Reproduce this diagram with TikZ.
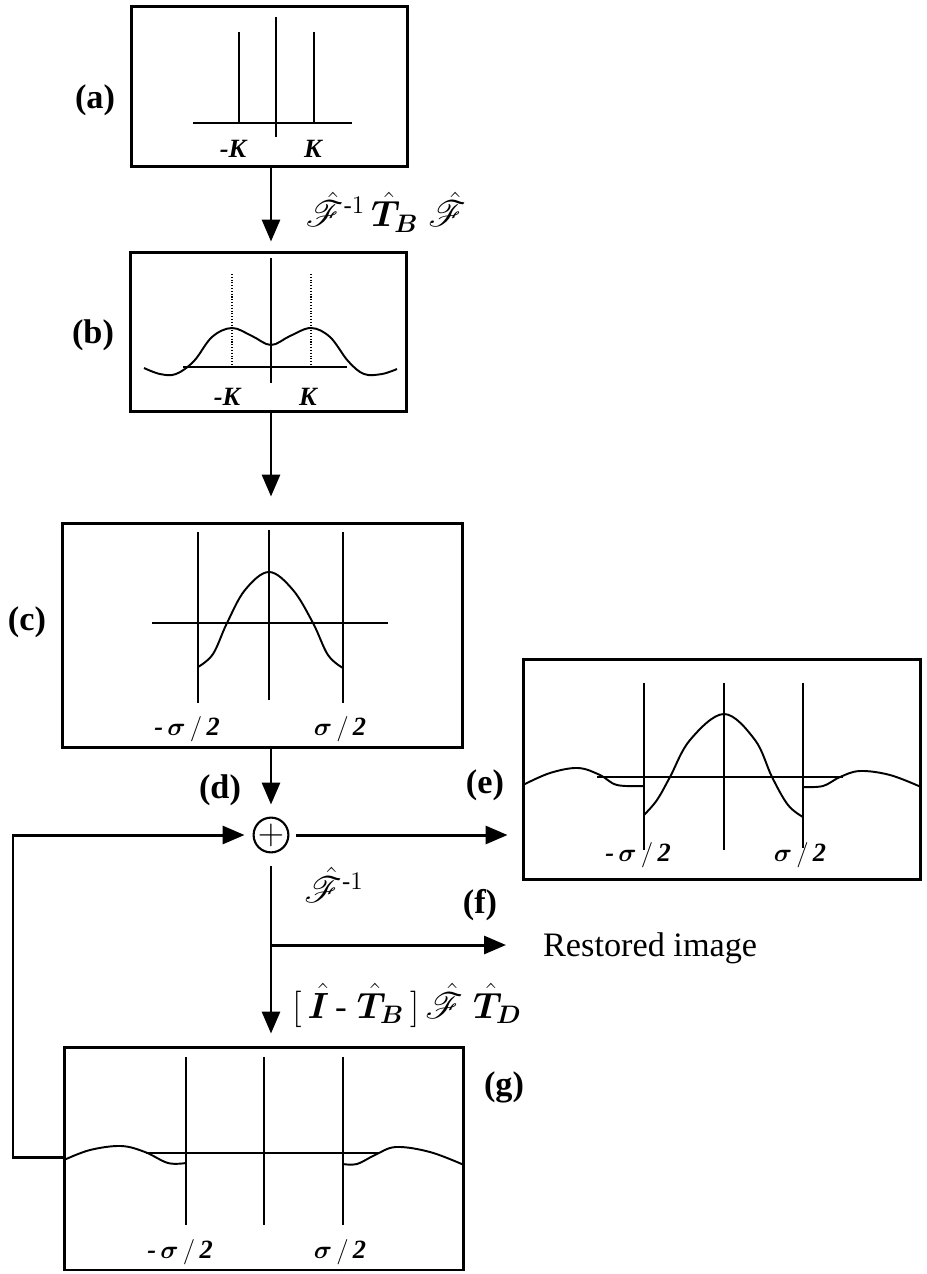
\documentclass[tikz,border=0pt]{standalone}
\usepackage{amsmath,amssymb,bm}
\usepackage{mathrsfs}
\usepackage{fontspec}
\setmainfont{Liberation Serif}
\usepackage{tikz}
\usetikzlibrary{calc}
\usetikzlibrary{arrows.meta, shapes}

\newcommand{\Fop}{\hat{\mathscr{F}}}
\newcommand{\Top}[1]{\bm{\hat{T}}_{\bm{#1}}}

\begin{document}
\begin{tikzpicture}[x=0.02cm, y=-0.02cm]
\tikzstyle{panel}=[draw=black, line width=1.7pt, inner sep=0pt]
\tikzstyle{tag}=[font=\fontsize{19.5}{22}\selectfont\bfseries]
\tikzstyle{op}=[font=\fontsize{20}{23}\selectfont, inner sep=1pt]
\tikzstyle{tick}=[font=\fontsize{15}{17}\selectfont\bfseries\itshape]
\tikzstyle{flow}=[line width=1.7pt, -{Triangle[length=0.44cm, width=0.36cm]}]
\tikzstyle{axis}=[line width=0.6pt]
\tikzstyle{spike}=[line width=1.3pt]
\tikzstyle{curve}=[line width=1.1pt]

\useasboundingbox (0,0) rectangle (926,1274);

% the five panels and the summing point
\path (269.5,86.5) node[panel, minimum width=5.54cm, minimum height=3.22cm](A) {}
      (268.5,332) node[panel, minimum width=5.54cm, minimum height=3.2cm](B) {}
      (262.5,635.5) node[panel, minimum width=8.02cm, minimum height=4.5cm](C) {}
      (722,769.5) node[panel, minimum width=7.96cm, minimum height=4.42cm](E) {}
      (264,1158.5) node[panel, minimum width=8cm, minimum height=4.46cm](G) {}
      (271,835) node[circle, draw, line width=1.2pt, minimum size=0.6cm, inner sep=0pt,
                     font=\fontsize{20}{20}\selectfont](Sum) {$+$};

% labels
\node[tag] (la) at (95,100) {(a)};
\node[tag] (lb) at (93,335) {(b)};
\node[tag] (lc) at (27,622) {(c)};
\node[tag] (ld) at (220,790) {(d)};
\node[tag] (le) at (485,785) {(e)};
\node[tag] (lf) at (480,905) {(f)};
\node[tag] (lg) at (504,1087) {(g)};
\node[op] (opab) at (386,212) {$\Fop^{\text{-}1}\,\Top{B}\;\Fop$};
\node[op] (opinv) at (334,885) {$\Fop^{\text{-}1}$};
\node[op] (opg) at (407,1005) {$[\,\bm{\hat{I}}\,\text{-}\;\Top{B}\,]\,\Fop\;\Top{D}$};
\node[op, anchor=west, font=\fontsize{19.5}{22}\selectfont] (Out) at (541,948) {Restored image};

% connectors
\draw[flow, shorten >=0.18cm] (A.south -| Sum) -- (B.north -| Sum);
\draw[flow, shorten >=0.5cm] (B.south -| Sum) -- (C.north -| Sum);
\draw[flow, shorten >=0.24cm] (C.south -| Sum) -- (Sum.north);
\draw[flow, shorten <=0.14cm, shorten >=0.28cm] (Sum.east) -- (Sum.east -| E.west);
\draw[flow, shorten <=0.26cm, shorten >=0.24cm] (Sum.south) -- (G.north -| Sum);
\coordinate (fork) at (271,945);
\draw[flow, shorten >=0.7cm] (fork) -- (fork -| Out.west);
\coordinate (loop) at (13,1157);
\draw[flow, shorten >=0.16cm] (G.west |- loop) -- (loop) |- (Sum.west);

% (a) two lines at -K and K
\draw[axis] (276,17) -- (276,137);
\draw[axis] (193,123) -- (352,123);
\draw[spike] (239,32) -- (239,123);
\draw[spike] (314,32) -- (314,123);
\node[tick] (ka1) at (233,149) {-K};
\node[tick] (ka2) at (313,149) {K};

% (b) blurred lines
\draw[axis] (271,258) -- (271,383);
\draw[axis] (183,367) -- (347,367);
\draw[axis, densely dotted, line width=1pt] (232,274) -- (232,367);
\draw[axis, densely dotted, line width=1pt] (311,274) -- (311,367);
\draw[curve] plot[smooth, tension=0.6] coordinates {(144,368) (160,374) (176,374) (194,361)
  (212,337) (232,328) (252,336) (271,345) (290,336) (311,328) (330,337) (348,361)
  (364,374) (382,374) (397,369)};
\node[tick] (kb1) at (227,397) {-K};
\node[tick] (kb2) at (308,397) {K};

% (c) central part
\draw[axis] (198,532) -- (198,703);
\draw[axis] (269,530) -- (269,700);
\draw[axis] (343,532) -- (343,703);
\draw[axis] (152,623) -- (388,623);
\draw[curve] plot[smooth, tension=0.6] coordinates {(198,667) (213,654) (227,623)
  (245,590) (269,572) (293,590) (313,623) (328,655) (343,668)};
\node[tick] (sc1) at (187,729) {-\,$\bm{\sigma}\,/\,$2};
\node[tick] (sc2) at (340,729) {$\bm{\sigma}\,/\,$2};

% (e) sum
\draw[axis] (644,683) -- (644,850);
\draw[axis] (724,683) -- (724,850);
\draw[axis] (803,683) -- (803,848);
\draw[axis] (597,777) -- (843,777);
\draw[curve] plot[smooth, tension=0.6] coordinates {(523,785) (550,773) (578,768)
  (600,775) (617,785) (644,786)};
\draw[curve] plot[smooth, tension=0.6] coordinates {(644,815) (657,800) (670,777)
  (690,740) (724,714) (755,740) (772,777) (788,805) (803,817)};
\draw[curve] plot[smooth, tension=0.6] coordinates {(803,787) (823,786) (840,777)
  (860,771) (890,775) (921,787)};
\node[tick] (se1) at (638,855) {-\,$\bm{\sigma}\,/\,$2};
\node[tick] (se2) at (800,855) {$\bm{\sigma}\,/\,$2};

% (g) outer part
\draw[axis] (186,1057) -- (186,1225);
\draw[axis] (264,1057) -- (264,1225);
\draw[axis] (343,1057) -- (343,1225);
\draw[axis] (146,1153) -- (379,1153);
\draw[curve] plot[smooth, tension=0.6] coordinates {(64,1160) (90,1150) (121,1146)
  (145,1152) (168,1163) (186,1163)};
\draw[curve] plot[smooth, tension=0.6] coordinates {(343,1164) (357,1164) (375,1155)
  (396,1147) (430,1152) (464,1165)};
\node[tick] (sg1) at (180,1252) {-\,$\bm{\sigma}\,/\,$2};
\node[tick] (sg2) at (340,1252) {$\bm{\sigma}\,/\,$2};

\end{tikzpicture}
\end{document}
